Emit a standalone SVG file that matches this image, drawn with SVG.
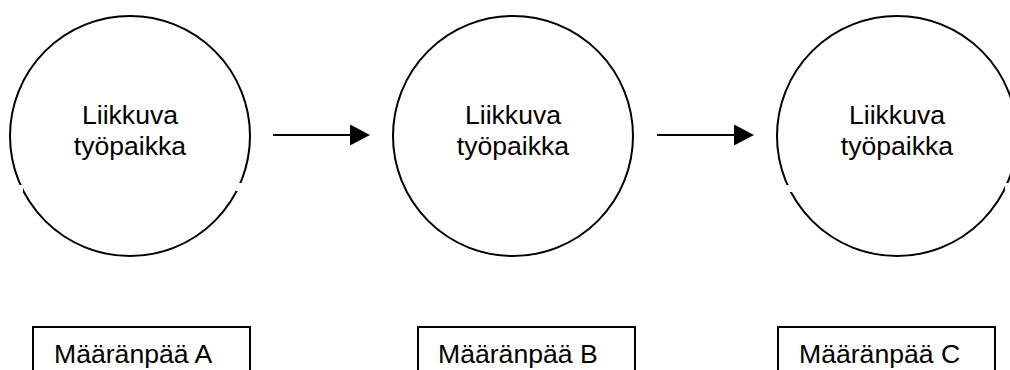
<svg xmlns="http://www.w3.org/2000/svg" width="1010" height="370" viewBox="0 0 1010 370">
  <style>
    .node circle { fill: #ffffff; stroke: #000000; stroke-width: 2; }
    .dest rect { fill: #ffffff; stroke: #000000; stroke-width: 2; }
    text { font-family: "Liberation Sans", Arial, sans-serif; font-size: 26.6px; fill: #000000; }
    .mid { text-anchor: middle; }
    .gap { fill: #ffffff; }
    .conn line { stroke: #000000; stroke-width: 2; }
  </style>
  <defs>
    <marker id="arrowhead" markerWidth="20" markerHeight="21" refX="0" refY="10.5" markerUnits="userSpaceOnUse" orient="auto">
      <path d="M0,0 L20,10.5 L0,21 Z" fill="#000000"/>
    </marker>
  </defs>

  <rect width="1010" height="370" fill="#ffffff"/>

  <!-- moving workplace, stage 1 -->
  <g id="workplace-1" class="node">
    <circle cx="130" cy="136" r="120"/>
    <rect class="gap" x="17" y="185" width="6" height="7"/>
    <rect class="gap" x="236" y="183" width="6" height="8"/>
    <text class="mid" x="130" y="124">Liikkuva</text>
    <text class="mid" x="130" y="155">työpaikka</text>
  </g>

  <!-- moving workplace, stage 2 -->
  <g id="workplace-2" class="node">
    <circle cx="513" cy="136" r="120"/>
    <text class="mid" x="513" y="124">Liikkuva</text>
    <text class="mid" x="513" y="155">työpaikka</text>
  </g>

  <!-- moving workplace, stage 3 -->
  <g id="workplace-3" class="node">
    <circle cx="897" cy="136" r="120"/>
    <rect class="gap" x="787" y="185" width="6" height="7"/>
    <rect class="gap" x="1005" y="183" width="6" height="8"/>
    <text class="mid" x="897" y="124">Liikkuva</text>
    <text class="mid" x="897" y="155">työpaikka</text>
  </g>

  <!-- destinations -->
  <g id="destination-a" class="dest">
    <rect x="33" y="327" width="217" height="60"/>
    <text x="54" y="363">Määränpää A</text>
  </g>
  <g id="destination-b" class="dest">
    <rect x="418" y="327" width="217" height="60"/>
    <text x="438" y="363">Määränpää B</text>
  </g>
  <g id="destination-c" class="dest">
    <rect x="778" y="327" width="217" height="60"/>
    <text x="799" y="363">Määränpää C</text>
  </g>

  <!-- connectors -->
  <g id="connectors" class="conn">
    <line x1="273" y1="135" x2="350" y2="135" marker-end="url(#arrowhead)"/>
    <line x1="657" y1="135" x2="734" y2="135" marker-end="url(#arrowhead)"/>
  </g>
</svg>
